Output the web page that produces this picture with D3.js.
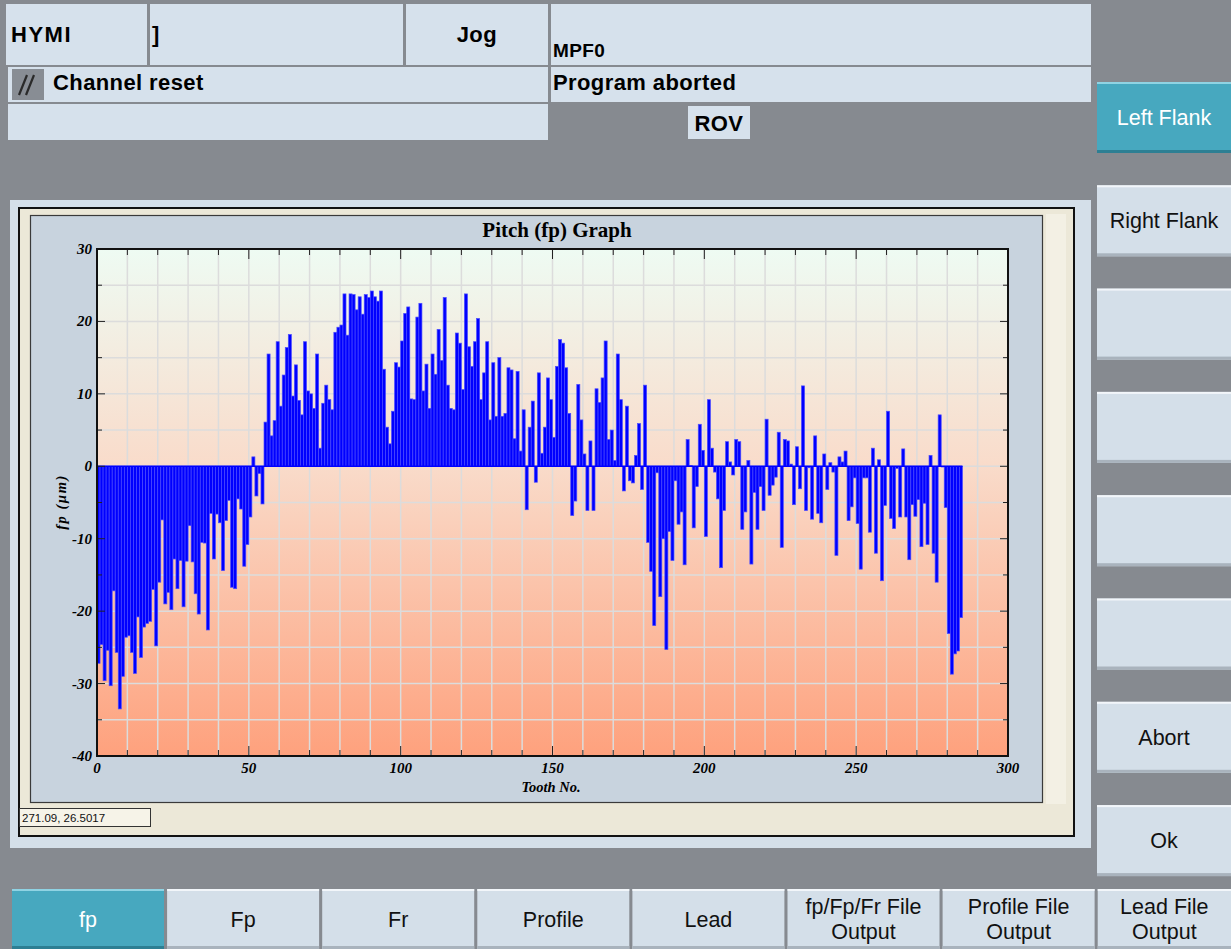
<!DOCTYPE html>
<html>
<head>
<meta charset="utf-8">
<script src="https://cdn.jsdelivr.net/npm/d3@7"></script>
<style>
  body { margin: 0; background: #868a90; overflow: hidden; }
  svg { display: block; font-family: "Liberation Sans", Arial, sans-serif; }
</style>
</head>
<body>
<svg id="screen" width="1231" height="949"></svg>
<script>
/* Chart data: pitch deviation fp (µm) per tooth, tooth 0 .. 284 */
const fpValues = [
  // 0 - 32
  -27.2, -24.6, -29.6, -25.4, -30.3, -17.2, -25.7, -33.5, -29.0, -23.6, -23.4, -25.7, -28.6, -20.8, -26.4, -22.2, -21.7,
  -21.4, -17.0, -24.8, -16.0, -7.4, -19.0, -17.4, -19.8, -12.8, -16.9, -13.0, -19.4, -13.1, -8.2, -13.2, -17.6,
  // 33 - 54
  -20.4, -10.5, -10.6, -22.6, -6.5, -12.8, -6.6, -7.8, -14.4, -7.5, -4.7, -16.7, -16.9, -4.5, -5.9, -13.8, -10.8,
  -7.0, 1.3, -4.1, -1.0, -5.2,
  // 55 - 88
  6.1, 15.5, 4.2, 6.3, 17.2, 8.3, 12.6, 16.4, 18.2, 9.7, 14.0, 9.1, 7.1, 17.2, 10.4, 10.0, 8.0, 15.5, 2.5, 8.7,
  11.2, 9.2, 7.8, 18.5, 19.2, 19.5, 23.8, 18.1, 23.8, 23.7, 21.6, 23.4, 21.0, 23.7,
  // 89 - 123
  23.3, 24.2, 23.4, 22.8, 24.2, 13.4, 5.4, 3.1, 7.6, 14.3, 13.7, 17.3, 21.1, 22.0, 9.3, 9.2, 20.6, 22.5, 10.4,
  14.1, 8.0, 15.5, 12.7, 18.9, 14.6, 23.3, 11.2, 8.0, 7.8, 18.4, 17.0, 10.6, 23.8, 16.5, 13.8,
  // 124 - 157
  17.2, 20.4, 9.2, 12.9, 17.2, 6.4, 14.3, 6.9, 15.0, 6.9, 7.3, 13.6, 13.3, 3.8, 13.1, 2.1, 7.8, -6.0, 5.4, 9.0,
  -2.2, 12.9, 1.8, 5.4, 12.2, 9.2, 4.0, 13.8, 17.5, 17.0, 13.6, 7.3, -6.8, -4.8,
  // 158 - 180
  11.3, 6.4, 1.7, -6.1, 3.5, -6.1, 10.7, 8.8, 12.2, 17.3, 3.7, 5.0, 0.8, 15.5, 9.2, -3.4, 8.3, -2.0, -2.3, 1.5,
  5.9, -3.2, 11.2,
  // 181 - 191
  -10.5, -14.5, -22.0, -0.9, -18.0, -10.0, -25.3, -9.0, -13.0, -2.0, -8.0,
  // 192 - 227
  -6.3, -13.6, 3.7, 0.1, -8.5, -2.8, 5.8, 2.2, -9.7, 9.2, 2.5, -0.8, -4.5, -14.0, -6.1, 3.4, 0.6, -1.2, 3.7, 3.4,
  -8.7, -6.3, 0.8, -13.5, -3.6, -8.7, -2.8, -6.1, 6.5, -4.0, -2.6, -1.5, 4.7, -11.2, 3.7, 3.5,
  // 228 - 261
  0.3, -5.3, 2.7, -3.1, 11.1, -6.1, -0.2, -7.3, 4.2, -6.5, -7.8, 1.7, -3.2, 0.5, -0.8, -12.3, 1.3, 0.6, 2.1,
  -7.5, -5.6, -1.6, -7.9, -14.2, -1.6, -1.6, -9.1, 2.5, -12.0, 0.9, -15.8, -5.4, 7.6, -7.2,
  // 262 - 284
  -8.6, -0.3, -7.0, 2.4, -7.0, -12.9, -5.3, -6.9, -4.6, -11.1, -5.1, -10.8, 1.5, -12.0, -16.0, 7.1, -0.1, -5.7,
  -23.1, -28.7, -25.9, -25.5, -20.9
];
const xTickLabels = [0, 50, 100, 150, 200, 250, 300];
const yTickLabels = [30, 20, 10, 0, -10, -20, -30, -40];
const chartTitle = "Pitch (fp) Graph";
const xAxisTitle = "Tooth No.";
const yAxisTitle = "fp (\u00b5m)";
const cursorReadout = "271.09, 26.5017";

/* HMI screen texts */
const softKeys = ["Left Flank", "Right Flank", "", "", "", "", "Abort", "Ok"];
const bottomKeys = ["fp", "Fp", "Fr", "Profile", "Lead", "fp/Fp/Fr File|Output", "Profile File|Output", "Lead File|Output"];
const activeSoftKey = "Left Flank";
const activeBottomKey = "fp";

// colours
const cellColor = "#d6e1ec";
const panelColor = "#d4dfe9";
const widgetColor = "#c8d3de";
const beigeColor = "#ece8d8";
const tealColor = "#47a8bf";
const barColor = "#0000ff";

const svg = d3.select("#screen");

/* ---------- header ---------- */
function cell(x, y, w, h, fill) {
  return svg.append("rect").attr("x", x).attr("y", y).attr("width", w).attr("height", h).attr("fill", fill || cellColor);
}
function label(x, y, txt, opts) {
  opts = opts || {};
  return svg.append("text").attr("x", x).attr("y", y)
    .attr("font-size", opts.size || 22)
    .attr("font-weight", opts.weight || "bold")
    .attr("text-anchor", opts.anchor || "start")
    .attr("letter-spacing", opts.spacing || 0.4)
    .attr("fill", opts.fill || "#000")
    .text(txt);
}

cell(6, 4, 141, 61); label(11, 42, "HYMI", {spacing: 1.5});
cell(150, 4, 253, 61); label(152, 42, "]");
cell(406, 4, 142, 61); label(497, 42, "Jog", {anchor: "end"});
cell(551, 4, 540, 61); label(553, 57, "MPF0", {size: 19, spacing: 0});

cell(8, 67, 540, 35);
svg.append("rect").attr("x", 12).attr("y", 69).attr("width", 32).attr("height", 31).attr("fill", "#888d94");
svg.append("path").attr("d", "M19,95 L27,75 M26,95 L34,75").attr("stroke", "#2a2a2a").attr("stroke-width", 2.2);
label(53, 90, "Channel reset");
cell(551, 67, 540, 35); label(553, 90, "Program aborted");

cell(8, 104, 540, 36);
cell(688, 106, 62, 33); label(719, 131, "ROV", {anchor: "middle"});

/* ---------- soft keys ---------- */
function key(x, y, w, h, txt, active) {
  const g = svg.append("g");
  g.append("rect").attr("x", x).attr("y", y).attr("width", w).attr("height", h)
    .attr("fill", active ? tealColor : panelColor);
  g.append("rect").attr("x", x).attr("y", y).attr("width", w).attr("height", 2)
    .attr("fill", active ? "#8fd3e3" : "#f2f6fa");
  g.append("rect").attr("x", x).attr("y", y + h - 3).attr("width", w).attr("height", 3)
    .attr("fill", active ? "#2d7f93" : "#a9b3bd");
  const lines = txt.split("|");
  const cy = y + h / 2;
  lines.forEach((t, i) => {
    g.append("text").attr("x", x + w / 2)
      .attr("y", cy + 7.5 + (i - (lines.length - 1) / 2) * 25)
      .attr("text-anchor", "middle").attr("font-size", 21.5)
      .attr("fill", active ? "#fff" : "#111").text(t);
  });
}
softKeys.forEach((t, i) => key(1097, 82 + i * 103.3, 134, 71, t, t === activeSoftKey));
bottomKeys.forEach((t, i) => {
  const x = 12 + i * 155.1;
  const w = i === bottomKeys.length - 1 ? 1231 - x : 152;
  key(x, 889, w, 60, t, t === activeBottomKey);
});

/* ---------- chart panel ---------- */
svg.append("rect").attr("x", 10).attr("y", 200).attr("width", 1081).attr("height", 648).attr("fill", panelColor);
svg.append("rect").attr("x", 19).attr("y", 208).attr("width", 1055).attr("height", 628)
  .attr("fill", beigeColor).attr("stroke", "#111").attr("stroke-width", 2);
svg.append("rect").attr("x", 1046).attr("y", 214).attr("width", 20).attr("height", 590).attr("fill", "#f3f0e4");
svg.append("rect").attr("x", 30.5).attr("y", 215.5).attr("width", 1012).attr("height", 587)
  .attr("fill", widgetColor).attr("stroke", "#3a3a3a").attr("stroke-width", 1.2);

svg.append("rect").attr("x", 19.5).attr("y", 808.5).attr("width", 131).attr("height", 18)
  .attr("fill", "#f6f3e8").attr("stroke", "#333");
svg.append("text").attr("x", 22).attr("y", 822).attr("font-size", 11.5).attr("fill", "#111").text(cursorReadout);

/* ---------- plot ---------- */
const x = d3.scaleLinear().domain([0, 300]).range([97, 1008]);
const y = d3.scaleLinear().domain([-40, 30]).range([756, 249]);

const defs = svg.append("defs");
const grad = defs.append("linearGradient").attr("id", "bg").attr("x1", 0).attr("y1", 0).attr("x2", 0).attr("y2", 1);
grad.append("stop").attr("offset", "0%").attr("stop-color", "#eefbf3");
grad.append("stop").attr("offset", "42%").attr("stop-color", "#f9dccb");
grad.append("stop").attr("offset", "100%").attr("stop-color", "#fea17d");

const plot = svg.append("g");
plot.append("rect").attr("x", x(0)).attr("y", y(30)).attr("width", x(300) - x(0)).attr("height", y(-40) - y(30))
  .attr("fill", "url(#bg)");

// grid
plot.append("g").selectAll("line").data(d3.range(10, 300, 10)).join("line")
  .attr("x1", d => x(d)).attr("x2", d => x(d)).attr("y1", y(30)).attr("y2", y(-40))
  .attr("stroke", "#dcdcdc").attr("stroke-width", 1.5);
plot.append("g").selectAll("line").data(d3.range(-35, 30, 5)).join("line")
  .attr("x1", x(0)).attr("x2", x(300)).attr("y1", d => y(d)).attr("y2", d => y(d))
  .attr("stroke", "#dcdcdc").attr("stroke-width", 1.5);

// bars
plot.append("g").selectAll("rect").data(fpValues).join("rect")
  .attr("x", (d, i) => x(i))
  .attr("width", (d, i) => x(i + 1) - x(i))
  .attr("y", d => y(Math.max(0, d)))
  .attr("height", d => Math.abs(y(d) - y(0)))
  .attr("fill", barColor).attr("stroke", "#4a4aff").attr("stroke-width", 0.7);
plot.append("line").attr("x1", x(0)).attr("x2", x(fpValues.length)).attr("y1", y(0)).attr("y2", y(0))
  .attr("stroke", barColor).attr("stroke-width", 1.5);

// ticks (inside)
const xt = d3.range(0, 301, 10);
plot.append("g").selectAll("line").data(xt).join("line")
  .attr("x1", d => x(d)).attr("x2", d => x(d)).attr("y1", y(30)).attr("y2", d => y(30) + (d % 50 === 0 ? 10 : 6))
  .attr("stroke", "#222");
plot.append("g").selectAll("line").data(xt).join("line")
  .attr("x1", d => x(d)).attr("x2", d => x(d)).attr("y1", y(-40)).attr("y2", d => y(-40) - (d % 50 === 0 ? 10 : 6))
  .attr("stroke", "#222");
const yt = d3.range(-40, 31, 5);
plot.append("g").selectAll("line").data(yt).join("line")
  .attr("x1", x(0)).attr("x2", d => x(0) + (d % 10 === 0 ? 8 : 5)).attr("y1", d => y(d)).attr("y2", d => y(d))
  .attr("stroke", "#222");
plot.append("g").selectAll("line").data(yt).join("line")
  .attr("x1", x(300)).attr("x2", d => x(300) - (d % 10 === 0 ? 8 : 5)).attr("y1", d => y(d)).attr("y2", d => y(d))
  .attr("stroke", "#222");

plot.append("rect").attr("x", x(0)).attr("y", y(30)).attr("width", x(300) - x(0)).attr("height", y(-40) - y(30))
  .attr("fill", "none").attr("stroke", "#111").attr("stroke-width", 2);

// tick labels
const serif = "'Liberation Serif', 'Times New Roman', serif";
plot.append("g").selectAll("text").data(yTickLabels).join("text")
  .attr("x", 92).attr("y", d => y(d) + 5).attr("text-anchor", "end")
  .attr("font-family", serif).attr("font-style", "italic").attr("font-weight", "bold").attr("font-size", 15)
  .text(d => d);
plot.append("g").selectAll("text").data(xTickLabels).join("text")
  .attr("x", d => x(d)).attr("y", 773).attr("text-anchor", "middle")
  .attr("font-family", serif).attr("font-style", "italic").attr("font-weight", "bold").attr("font-size", 15)
  .text(d => d);

svg.append("text").attr("x", 557).attr("y", 237).attr("text-anchor", "middle")
  .attr("font-family", serif).attr("font-weight", "bold").attr("font-size", 21).text(chartTitle);
svg.append("text").attr("x", 551).attr("y", 792).attr("text-anchor", "middle")
  .attr("font-family", serif).attr("font-style", "italic").attr("font-weight", "bold").attr("font-size", 14.5)
  .text(xAxisTitle);
svg.append("text").attr("transform", "translate(66,502) rotate(-90)").attr("text-anchor", "middle")
  .attr("font-family", serif).attr("font-style", "italic").attr("font-weight", "bold").attr("font-size", 14.5)
  .attr("letter-spacing", 1.5)
  .text(yAxisTitle);
</script>
</body>
</html>
